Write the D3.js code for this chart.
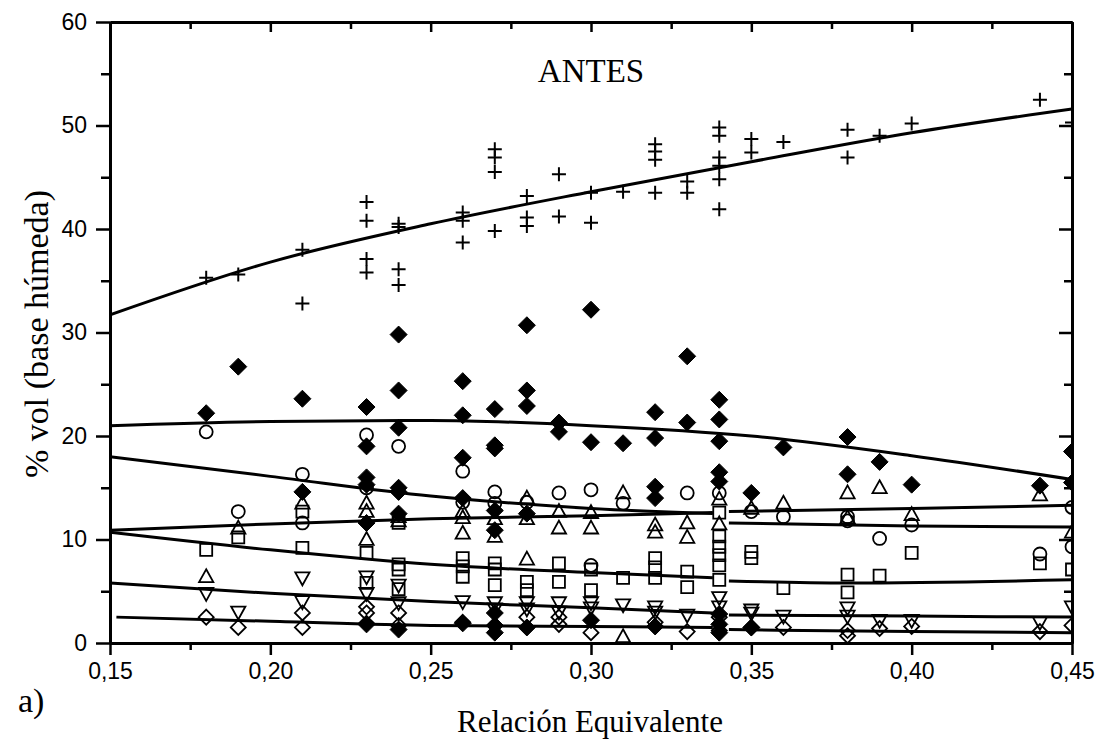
<!DOCTYPE html>
<html><head><meta charset="utf-8">
<script src="https://cdn.jsdelivr.net/npm/d3@7/dist/d3.min.js"></script>
<style>
body{margin:0;background:#fff;}
svg{display:block;}
</style></head>
<body>
<svg id="chart" width="1102" height="743"></svg>
<script>
// ---------- data ----------
const xTickValues = [0.15, 0.20, 0.25, 0.30, 0.35, 0.40, 0.45];
const xTickLabels = ["0,15", "0,20", "0,25", "0,30", "0,35", "0,40", "0,45"];
const yTickValues = [0, 10, 20, 30, 40, 50, 60];
const yTickLabels = ["0", "10", "20", "30", "40", "50", "60"];

const plusPts = [
  [0.18,35.3],[0.19,35.6],[0.21,38.0],[0.21,32.8],
  [0.23,42.6],[0.23,40.8],[0.23,37.1],[0.23,35.8],
  [0.24,40.5],[0.24,40.2],[0.24,36.1],[0.24,34.6],
  [0.26,41.6],[0.26,40.8],[0.26,38.7],
  [0.27,47.7],[0.27,46.9],[0.27,45.5],[0.27,39.8],
  [0.28,43.2],[0.28,41.1],[0.28,40.3],
  [0.29,45.3],[0.29,41.2],[0.30,43.5],[0.30,40.6],[0.31,43.6],
  [0.32,48.2],[0.32,47.5],[0.32,46.7],[0.32,43.5],
  [0.33,44.6],[0.33,43.5],
  [0.34,49.8],[0.34,49.0],[0.34,46.9],[0.34,46.1],[0.34,44.8],[0.34,41.9],
  [0.35,48.7],[0.35,47.4],[0.36,48.4],[0.38,49.6],[0.38,46.9],
  [0.39,49.0],[0.40,50.2],[0.44,52.5],[0.45,50.3]
];
const filledDiamondPts = [
  [0.18,22.2],[0.19,26.7],[0.21,23.6],[0.21,14.6],
  [0.23,22.8],[0.23,19.0],[0.23,16.0],[0.23,15.3],[0.23,11.6],[0.23,1.8],
  [0.24,29.8],[0.24,24.4],[0.24,20.8],[0.24,15.0],[0.24,14.6],[0.24,12.5],[0.24,1.3],
  [0.26,25.3],[0.26,22.0],[0.26,17.9],[0.26,14.0],[0.26,1.9],
  [0.27,22.6],[0.27,19.1],[0.27,18.8],[0.27,12.8],[0.27,10.9],[0.27,2.9],[0.27,1.7],[0.27,1.0],
  [0.28,30.7],[0.28,24.4],[0.28,22.9],[0.28,12.5],[0.28,1.5],
  [0.29,21.3],[0.29,20.4],[0.30,32.2],[0.30,19.4],[0.30,2.2],[0.31,19.3],
  [0.32,22.3],[0.32,19.8],[0.32,15.1],[0.32,14.0],[0.32,1.6],
  [0.33,27.7],[0.33,21.3],
  [0.34,23.5],[0.34,21.6],[0.34,19.5],[0.34,16.5],[0.34,15.6],[0.34,2.8],[0.34,1.8],[0.34,1.0],
  [0.35,14.5],[0.35,1.5],[0.36,18.9],[0.38,19.9],[0.38,16.3],[0.39,17.5],
  [0.40,15.3],[0.44,15.2],[0.45,18.5],[0.45,15.5]
];
const circlePts = [
  [0.18,20.4],[0.19,12.7],[0.21,16.3],[0.21,11.6],[0.23,20.1],[0.23,15.0],[0.24,19.0],
  [0.26,16.6],[0.26,13.6],[0.27,14.6],[0.27,13.5],[0.28,13.6],[0.29,14.5],
  [0.30,14.8],[0.30,7.5],[0.31,13.5],[0.33,14.5],[0.34,14.5],[0.35,12.7],[0.36,12.2],
  [0.38,12.2],[0.38,11.8],[0.39,10.1],[0.40,11.4],[0.44,8.6],[0.45,13.1],[0.45,9.3]
];
const trianglePts = [
  [0.18,6.4],[0.19,11.1],[0.21,13.5],[0.23,13.5],[0.23,12.7],[0.23,10.0],
  [0.24,12.2],[0.24,11.8],[0.26,12.7],[0.26,12.1],[0.26,10.6],[0.27,12.0],[0.27,10.3],
  [0.28,14.0],[0.28,12.0],[0.28,8.1],[0.29,12.7],[0.29,11.1],[0.30,12.6],[0.30,11.1],
  [0.31,14.5],[0.31,0.6],[0.32,11.4],[0.32,10.7],[0.33,11.6],[0.33,10.2],
  [0.34,13.9],[0.34,11.5],[0.35,13.0],[0.36,13.5],[0.38,14.5],[0.38,12.1],
  [0.39,15.0],[0.40,12.4],[0.44,14.3],[0.45,10.7]
];
const squarePts = [
  [0.18,9.0],[0.19,10.2],[0.21,12.7],[0.21,9.2],[0.23,8.7],[0.23,5.8],
  [0.24,11.6],[0.24,7.6],[0.24,7.1],[0.24,5.2],[0.26,8.2],[0.26,7.4],[0.26,6.4],
  [0.27,7.7],[0.27,7.1],[0.27,5.6],[0.28,5.9],[0.28,5.1],[0.29,7.7],[0.29,5.9],
  [0.30,7.1],[0.30,5.1],[0.31,6.3],[0.32,8.2],[0.32,7.3],[0.32,6.3],[0.33,6.9],[0.33,5.4],
  [0.34,12.6],[0.34,10.3],[0.34,9.3],[0.34,8.5],[0.34,7.5],[0.34,6.1],
  [0.35,8.8],[0.35,8.2],[0.36,5.3],[0.38,6.6],[0.38,4.9],[0.39,6.5],[0.40,8.7],
  [0.44,7.7],[0.45,7.1]
];
const invTrianglePts = [
  [0.18,4.8],[0.19,3.0],[0.21,6.3],[0.21,4.0],[0.23,6.4],[0.23,4.8],[0.24,5.6],[0.24,3.9],
  [0.26,4.0],[0.27,3.9],[0.27,3.3],[0.28,3.9],[0.28,3.3],[0.29,3.9],[0.29,3.0],
  [0.30,3.9],[0.30,3.4],[0.31,3.7],[0.32,3.5],[0.32,3.0],[0.33,2.7],[0.34,4.4],[0.34,3.5],
  [0.35,3.2],[0.35,2.9],[0.36,2.6],[0.38,3.4],[0.38,2.6],[0.39,2.2],[0.40,2.2],
  [0.44,2.0],[0.45,3.5]
];
const openDiamondPts = [
  [0.18,2.5],[0.19,1.5],[0.21,2.9],[0.21,1.5],[0.23,3.5],[0.23,2.9],[0.23,1.9],
  [0.24,2.9],[0.24,1.7],[0.26,2.0],[0.27,1.7],[0.28,2.5],[0.29,2.5],[0.29,1.8],
  [0.30,1.0],[0.32,2.0],[0.33,1.1],[0.34,2.5],[0.34,1.2],[0.35,1.5],[0.36,1.5],
  [0.38,1.2],[0.38,0.7],[0.39,1.4],[0.40,1.6],[0.44,1.1],[0.45,1.7]
];

// fitted curves, drawn in segments
const fitPlus = [[[0.15,31.7],[0.20,36.8],[0.25,40.5],[0.30,43.6],[0.35,46.5],[0.40,49.3],[0.45,51.6]]];
const fitFilledDiamond = [[[0.15,21.0],[0.20,21.4],[0.25,21.5],[0.30,21.0],[0.35,20.0],[0.40,18.1],[0.45,15.8]]];
const fitCircle = [[[0.15,18.0],[0.20,16.1],[0.25,14.2],[0.30,13.0],[0.338,12.5]],[[0.343,11.6],[0.40,11.3],[0.45,11.2]]];
const fitTriangle = [[[0.15,10.9],[0.20,11.5],[0.25,12.0],[0.30,12.3],[0.338,12.6]],[[0.343,12.7],[0.40,13.0],[0.45,13.3]]];
const fitSquare = [[[0.15,10.7],[0.20,9.0],[0.25,7.6],[0.30,6.8],[0.338,6.3]],[[0.343,6.0],[0.38,5.8],[0.45,6.1]]];
const fitInvTriangle = [[[0.15,5.8],[0.20,4.8],[0.25,4.0],[0.30,3.4],[0.338,2.9]],[[0.343,2.7],[0.40,2.6],[0.45,2.5]]];
const fitOpenDiamond = [[[0.152,2.5],[0.20,2.1],[0.25,1.7],[0.30,1.6],[0.338,1.5]],[[0.343,1.3],[0.40,1.1],[0.45,1.0]]];

// ---------- layout ----------
const L = 110, R = 1072, T = 22, B = 643;
const svg = d3.select("#chart");
const x = d3.scaleLinear().domain([0.15, 0.45]).range([L, R]);
const y = d3.scaleLinear().domain([0, 60]).range([B, T]);

svg.append("defs").append("clipPath").attr("id","clip")
  .append("rect").attr("x",L).attr("y",T).attr("width",R-L).attr("height",B-T);

const plot = svg.append("g").attr("clip-path","url(#clip)");

// marker shape paths
const shapes = {
  plus: s => `M${-s},0H${s}M0,${-s}V${s}`,
  diamond: s => `M0,${-s}L${s},0L0,${s}L${-s},0Z`,
  tri: s => `M0,${-s}L${s*0.95},${s*0.72}L${-s*0.95},${s*0.72}Z`,
  invtri: s => `M0,${s}L${s*0.95},${-s*0.72}L${-s*0.95},${-s*0.72}Z`,
  square: s => `M${-s},${-s}H${s}V${s}H${-s}Z`
};

function drawPts(data, shape, size, fill, sw) {
  plot.append("g").selectAll("path").data(data).join("path")
    .attr("transform", d => `translate(${x(d[0])},${y(d[1])})`)
    .attr("d", shapes[shape](size))
    .attr("fill", fill).attr("stroke", "#000").attr("stroke-width", sw)
    .attr("stroke-linejoin","miter");
}
function drawCircles(data, r) {
  plot.append("g").selectAll("circle").data(data).join("circle")
    .attr("cx", d => x(d[0])).attr("cy", d => y(d[1])).attr("r", r)
    .attr("fill","none").attr("stroke","#000").attr("stroke-width",1.8);
}

drawPts(openDiamondPts, "diamond", 7.5, "none", 1.8);
drawPts(invTrianglePts, "invtri", 7.5, "none", 1.8);
drawPts(squarePts, "square", 6, "none", 1.8);
drawPts(trianglePts, "tri", 7.5, "none", 1.8);
drawCircles(circlePts, 6.5);
drawPts(filledDiamondPts, "diamond", 8.5, "#000", 1);
drawPts(plusPts, "plus", 7, "none", 2);

// fit curves
const line = d3.line().x(d => x(d[0])).y(d => y(d[1])).curve(d3.curveMonotoneX);
[fitPlus, fitFilledDiamond, fitCircle, fitTriangle, fitSquare, fitInvTriangle, fitOpenDiamond]
  .forEach(segs => segs.forEach(seg => {
    plot.append("path").attr("d", line(seg)).attr("fill","none")
      .attr("stroke","#000").attr("stroke-width",3);
  }));

// ---------- axes ----------
const xMinor = d3.range(0.175, 0.45, 0.05);
const yMinor = d3.range(5, 60, 10);
const tickFont = "'Liberation Sans', Arial, sans-serif";

function styleAxis(g){
  g.selectAll(".domain").attr("stroke","#000").attr("stroke-width",3);
  g.selectAll(".tick line").attr("stroke","#000").attr("stroke-width",2.5);
  g.selectAll("text").attr("font-family", tickFont).attr("font-size", 23).attr("fill","#000");
}

// bottom
const gb = svg.append("g").attr("transform",`translate(0,${B})`)
  .call(d3.axisBottom(x).tickValues(xTickValues).tickSize(12).tickSizeOuter(0).tickPadding(8)
    .tickFormat((d,i) => xTickLabels[i]));
styleAxis(gb);
const gbm = svg.append("g").attr("transform",`translate(0,${B})`)
  .call(d3.axisBottom(x).tickValues(xMinor).tickSize(7).tickSizeOuter(0).tickFormat(""));
styleAxis(gbm);

// top
const gt = svg.append("g").attr("transform",`translate(0,${T})`)
  .call(d3.axisTop(x).tickValues(xTickValues).tickSize(-10).tickSizeOuter(0).tickFormat(""));
styleAxis(gt);
const gtm = svg.append("g").attr("transform",`translate(0,${T})`)
  .call(d3.axisTop(x).tickValues(xMinor).tickSize(-7).tickSizeOuter(0).tickFormat(""));
styleAxis(gtm);

// left
const gl = svg.append("g").attr("transform",`translate(${L},0)`)
  .call(d3.axisLeft(y).tickValues(yTickValues).tickSize(14).tickSizeOuter(0).tickPadding(9)
    .tickFormat((d,i) => yTickLabels[i]));
styleAxis(gl);
const glm = svg.append("g").attr("transform",`translate(${L},0)`)
  .call(d3.axisLeft(y).tickValues(yMinor).tickSize(9).tickSizeOuter(0).tickFormat(""));
styleAxis(glm);

// right
const gr = svg.append("g").attr("transform",`translate(${R},0)`)
  .call(d3.axisRight(y).tickValues(yTickValues).tickSize(-13).tickSizeOuter(0).tickFormat(""));
styleAxis(gr);
const grm = svg.append("g").attr("transform",`translate(${R},0)`)
  .call(d3.axisRight(y).tickValues(yMinor).tickSize(-8).tickSizeOuter(0).tickFormat(""));
styleAxis(grm);

// ---------- texts ----------
const serif = "'Liberation Serif', 'Times New Roman', serif";
svg.append("text").attr("x", 591).attr("y", 82).attr("text-anchor","middle")
  .attr("font-family", serif).attr("font-size", 33).text("ANTES");
svg.append("text").attr("x", 590).attr("y", 732).attr("text-anchor","middle")
  .attr("font-family", serif).attr("font-size", 31).text("Relación Equivalente");
svg.append("text").attr("transform","translate(48,334) rotate(-90)").attr("text-anchor","middle")
  .attr("font-family", serif).attr("font-size", 34).text("% vol (base húmeda)");
svg.append("text").attr("x", 18).attr("y", 712)
  .attr("font-family", serif).attr("font-size", 34).text("a)");
</script>
</body></html>
